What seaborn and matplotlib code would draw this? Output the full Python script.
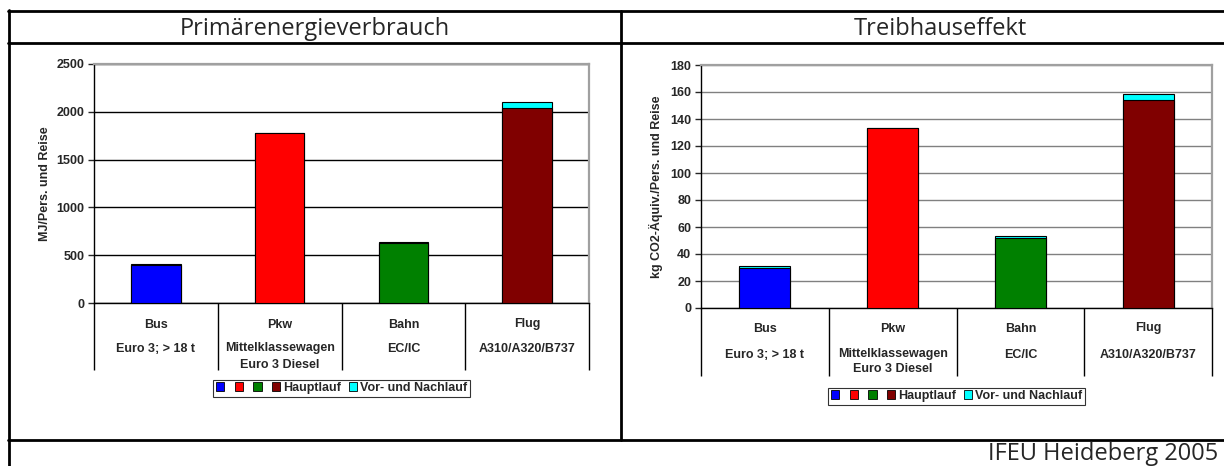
import matplotlib
matplotlib.use("Agg")
import matplotlib.pyplot as plt
import seaborn as sns
import pandas as pd
from matplotlib.patches import Patch
from matplotlib.lines import Line2D
from matplotlib.transforms import blended_transform_factory

# data
modes = ["Bus", "Pkw", "Bahn", "Flug"]
subtitles = ["Euro 3; > 18 t", "Mittelklassewagen\nEuro 3 Diesel", "EC/IC", "A310/A320/B737"]
colors = ["#0000ff", "#ff0000", "#008000", "#800000"]
vor_color = "#00ffff"

energie_haupt = [400, 1780, 625, 2040]
energie_vor = [12, 0, 18, 65]
thg_haupt = [30, 133.5, 52, 154]
thg_vor = [1, 0, 1.5, 4.5]

legend_labels = ["", "", "", "Hauptlauf", "Vor- und Nachlauf"]

sns.set_style("white")
plt.rcParams["font.family"] = ["Liberation Sans", "DejaVu Sans"]

fig = plt.figure(figsize=(12.24, 4.66), dpi=100)
W, H = 1224, 466


def px_axes(x0, y0, x1, y1):
    return fig.add_axes([x0 / W, 1 - y1 / H, (x1 - x0) / W, (y1 - y0) / H])


def draw_panel(ax, haupt, vor, ymax, ystep, ylabel, gridcolor, sep_len,
               label_offsets, legend_y, ylabel_x):
    df = pd.DataFrame({"mode": modes, "haupt": haupt,
                       "total": [h + v for h, v in zip(haupt, vor)]})
    # total height drawn in cyan, main part on top of it
    sns.barplot(data=df, x="mode", y="total", color=vor_color, width=0.4,
                saturation=1, edgecolor="black", linewidth=0.8, ax=ax, zorder=3)
    sns.barplot(data=df, x="mode", y="haupt", hue="mode", palette=colors,
                width=0.4, saturation=1, edgecolor="black", linewidth=0.8,
                legend=False, ax=ax, zorder=3)
    ax.set_ylim(0, ymax)
    ax.set_xlim(-0.5, 3.5)
    ax.set_yticks(range(0, ymax + 1, ystep))
    ax.yaxis.grid(True, color=gridcolor, linewidth=1.0)
    ax.set_axisbelow(True)
    ax.tick_params(axis="y", which="major", length=4, direction="out",
                   left=True, labelsize=9, width=1, pad=3)
    for lab in ax.get_yticklabels():
        lab.set_fontweight("bold")
    ax.set_ylabel(ylabel, fontsize=9, fontweight="bold")
    ax.yaxis.set_label_coords(ylabel_x, 0.5)
    ax.set_xlabel("")
    ax.set_xticks([0, 1, 2, 3])
    ax.set_xticklabels([])
    ax.tick_params(axis="x", which="major", length=0)
    # category separators
    ax.set_xticks([-0.5, 0.5, 1.5, 2.5, 3.5], minor=True)
    ax.tick_params(axis="x", which="minor", length=sep_len, width=1,
                   direction="out", bottom=True, color="black")
    for s in ["left", "bottom"]:
        ax.spines[s].set_color("black")
        ax.spines[s].set_linewidth(1)
    for s in ["top", "right"]:
        ax.spines[s].set_color("#a0a0a0")
        ax.spines[s].set_linewidth(1.6)
    trans = blended_transform_factory(ax.transData, ax.transAxes)
    off_main, off_sub, step = label_offsets
    for i, (m, sub) in enumerate(zip(modes, subtitles)):
        ax.annotate(m, (i, 0), xycoords=trans, xytext=(0, off_main),
                    textcoords="offset pixels", ha="center", va="baseline",
                    fontsize=9, fontweight="bold")
        for k, line in enumerate(sub.split("\n")):
            ax.annotate(line, (i, 0), xycoords=trans,
                        xytext=(0, off_sub - k * step),
                        textcoords="offset pixels", ha="center",
                        va="baseline", fontsize=9, fontweight="bold")
    handles = [Patch(facecolor=c, edgecolor="black", linewidth=0.6) for c in colors]
    handles.append(Patch(facecolor=vor_color, edgecolor="black", linewidth=0.6))
    leg = ax.legend(handles, legend_labels, loc="center", ncol=5,
                    bbox_to_anchor=(0.5, legend_y),
                    prop={"weight": "bold", "size": 9},
                    handlelength=0.65, handleheight=0.65, handletextpad=0.25,
                    columnspacing=0.6, borderpad=0.2, borderaxespad=0,
                    frameon=True, fancybox=False, edgecolor="black")
    leg.get_frame().set_linewidth(0.8)


ax1 = px_axes(94, 64, 589, 303)
draw_panel(ax1, energie_haupt, energie_vor, 2500, 500,
           "MJ/Pers. und Reise", "black", 48, (-24.5, -48.5, 16),
           1 - (388 - 64) / (303 - 64), (51 - 94) / 495)

ax2 = px_axes(701, 65, 1212, 308)
draw_panel(ax2, thg_haupt, thg_vor, 180, 20,
           "kg CO2-Äquiv./Pers. und Reise", "#808080", 49, (-23.5, -49.5, 15),
           1 - (396 - 65) / (308 - 65), (663 - 701) / 511)


# outer table frame
def hline(y, x0, x1):
    fig.add_artist(Line2D([x0 / W, x1 / W], [1 - y / H, 1 - y / H],
                          color="black", linewidth=2.0))


def vline(x, y0, y1):
    fig.add_artist(Line2D([x / W, x / W], [1 - y0 / H, 1 - y1 / H],
                          color="black", linewidth=2.0))


hline(11, 8, W)
hline(43, 8, W)
hline(440, 8, W)
vline(9, 10, H)
vline(621, 11, 440)

title_font = ["Open Sans", "DejaVu Sans"]
fig.text(315 / W, 1 - 35 / H, "Primärenergieverbrauch", ha="center",
         va="baseline", fontsize=17, family=title_font)
fig.text(940 / W, 1 - 35 / H, "Treibhauseffekt", ha="center",
         va="baseline", fontsize=17, family=title_font)
fig.text(1218 / W, 1 - 460 / H, "IFEU Heideberg 2005", ha="right",
         va="baseline", fontsize=17, family=title_font)

fig.savefig("out.png", dpi=100)
